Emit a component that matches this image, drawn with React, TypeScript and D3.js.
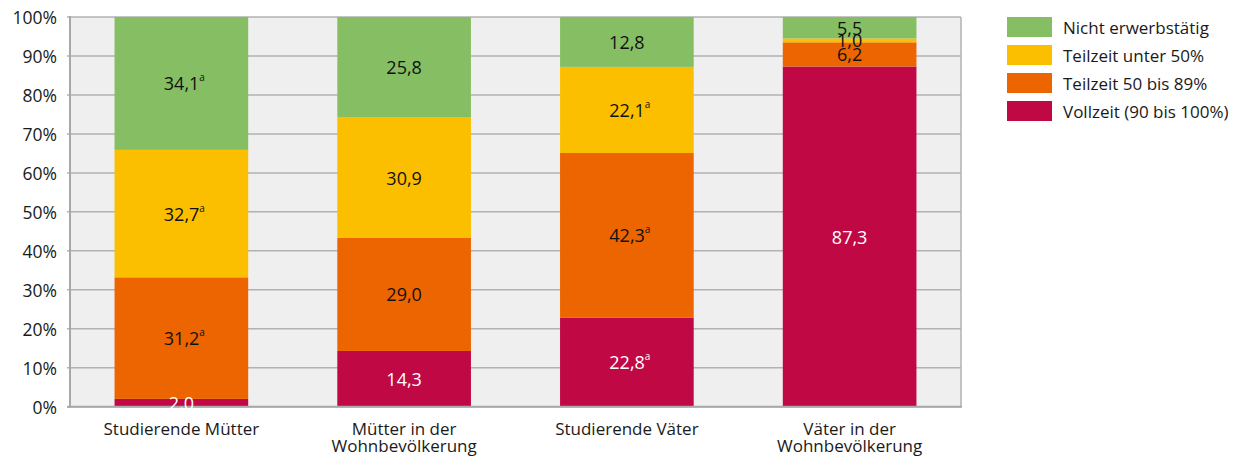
import React from "react";
import * as d3 from "d3";

const categories: string[][] = [
  ["Studierende Mütter"],
  ["Mütter in der", "Wohnbevölkerung"],
  ["Studierende Väter"],
  ["Väter in der", "Wohnbevölkerung"],
];
const seriesNames = ["Vollzeit (90 bis 100%)", "Teilzeit 50 bis 89%", "Teilzeit unter 50%", "Nicht erwerbstätig"];
const seriesColors = ["#c00845", "#ec6500", "#fbbf00", "#86bf63"];
const vollzeit = [2.0, 14.3, 22.8, 87.3];
const teilzeit5089 = [31.2, 29.0, 42.3, 6.2];
const teilzeitUnter50 = [32.7, 30.9, 22.1, 1.0];
const nichtErwerbstaetig = [34.1, 25.8, 12.8, 5.5];
// superscript "a" markers, [series][category]
const superA = [
  [false, false, true, false],
  [true, false, true, false],
  [true, false, true, false],
  [true, false, false, false],
];
const yTicks = [0, 10, 20, 30, 40, 50, 60, 70, 80, 90, 100];

const FONT = "'Open Sans', sans-serif";

export default function App() {
  const W = 1245, H = 462;
  const left = 70, right = 961, top = 17, bottom = 406.7;
  const series = [vollzeit, teilzeit5089, teilzeitUnter50, nichtErwerbstaetig];
  const x = d3.scaleBand<number>().domain([0, 1, 2, 3]).range([left, right]).paddingInner(0.4).paddingOuter(0.2);
  const y = d3.scaleLinear().domain([0, 100]).range([bottom, top]);
  const fmt = (v: number) => v.toFixed(1).replace(".", ",");

  const segs: any[] = [];
  categories.forEach((_, ci) => {
    let acc = 0;
    series.forEach((s, si) => {
      const v = s[ci];
      segs.push({ ci, si, y0: acc, y1: acc + v, v });
      acc += v;
    });
  });

  return (
    <svg width={W} height={H} style={{ position: "absolute", left: 0, top: 0 }} fontFamily={FONT}>
      <rect x={left} y={top} width={right - left} height={bottom - top} fill="#efefef" />
      {yTicks.map((t) => (
        <line key={t} x1={left - 3} x2={right} y1={y(t)} y2={y(t)} stroke="#b2b2b2" strokeWidth={1.5} />
      ))}
      <line x1={right} x2={right} y1={top} y2={bottom} stroke="#b2b2b2" strokeWidth={1.5} />
      {segs.map((d, i) => (
        <rect key={i} x={x(d.ci)} width={x.bandwidth()} y={y(d.y1)} height={y(d.y0) - y(d.y1)} fill={seriesColors[d.si]} />
      ))}
      <line x1={left} x2={left} y1={top - 1} y2={bottom + 1} stroke="#a8a8a8" strokeWidth={2} />
      <line x1={left - 3} x2={right + 1} y1={bottom} y2={bottom} stroke="#a8a8a8" strokeWidth={2} />
      {yTicks.map((t) => (
        <text key={t} x={57} y={y(t)} textAnchor="end" dominantBaseline="central" fontSize={17.5} fill="#1a1a1a">
          {t}%
        </text>
      ))}
      {segs.map((d, i) => {
        const cx = (x(d.ci) as number) + x.bandwidth() / 2;
        const cy = (y(d.y0) + y(d.y1)) / 2;
        const sup = superA[d.si][d.ci];
        return (
          <text key={i} x={cx + (sup ? 3 : 0)} y={cy} textAnchor="middle" dominantBaseline="central" fontSize={18}
            fill={d.si === 0 ? "#ffffff" : "#111111"}>
            {fmt(d.v)}
            {sup && <tspan fontSize={10} dy={-6}>a</tspan>}
          </text>
        );
      })}
      {categories.map((lines, ci) => {
        const cx = (x(ci) as number) + x.bandwidth() / 2;
        return (
          <text key={ci} x={cx} y={435} textAnchor="middle" fontSize={17} fill="#1a1a1a">
            {lines.map((l, li) => (
              <tspan key={li} x={cx} dy={li === 0 ? 0 : 17}>{l}</tspan>
            ))}
          </text>
        );
      })}
      {[3, 2, 1, 0].map((si, k) => (
        <g key={si} transform={`translate(1007, ${17 + k * 28})`}>
          <rect width={45} height={20} fill={seriesColors[si]} />
          <text x={56} y={10} dominantBaseline="central" fontSize={17} fill="#1a1a1a">{seriesNames[si]}</text>
        </g>
      ))}
    </svg>
  );
}
